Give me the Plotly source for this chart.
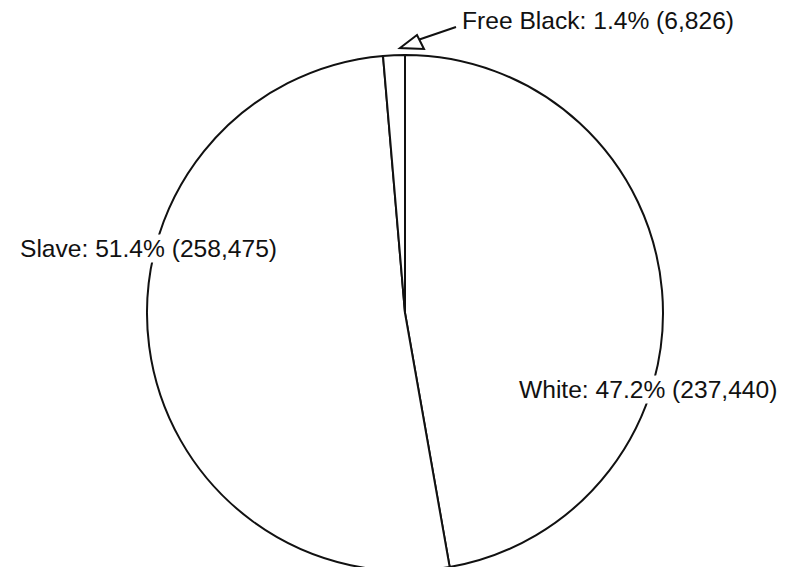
import plotly.graph_objects as go

labels = ["White", "Slave", "Free Black"]
values = [237440, 258475, 6826]
percents = ["47.2%", "51.4%", "1.4%"]
counts = ["237,440", "258,475", "6,826"]

W, H = 793, 567
OFF = 8  # page body margin

def px(x):
    return (x - OFF) / W

def py(y):
    return 1 - (y - OFF) / H

fig = go.Figure(go.Pie(
    labels=labels, values=values, sort=False, direction="clockwise", rotation=0,
    textinfo="none", hoverinfo="label+value+percent",
    marker=dict(colors=["white"] * 3, line=dict(color="#111111", width=2)),
    domain=dict(x=[px(147), px(663)], y=[py(571), py(55)]),
    showlegend=False,
))

texts = [f"{l}: {p} ({c})" for l, p, c in zip(labels, percents, counts)]
pos = [(648, 389), (148, 248), (598, 20)]
for t, (x, y) in zip(texts, pos):
    fig.add_annotation(x=px(x), y=py(y), xref="paper", yref="paper", text=t,
                       xanchor="center", yanchor="middle", borderpad=0,
                       showarrow=False, bgcolor="white",
                       font=dict(family="Liberation Sans, Arial", size=24.6, color="#111111"))

fig.add_shape(type="line", xref="paper", yref="paper",
              x0=px(456), y0=py(27), x1=px(412), y1=py(42),
              line=dict(color="#111111", width=2))
fig.add_shape(type="path", xref="paper", yref="paper",
              path=f"M {px(400)},{py(48)} L {px(417)},{py(35)} L {px(424)},{py(49)} Z",
              line=dict(color="#111111", width=2), fillcolor="white")

fig.update_layout(width=W, height=H, margin=dict(l=0, r=0, t=0, b=0),
                  paper_bgcolor="white", plot_bgcolor="white")
fig.write_html("out.html")
